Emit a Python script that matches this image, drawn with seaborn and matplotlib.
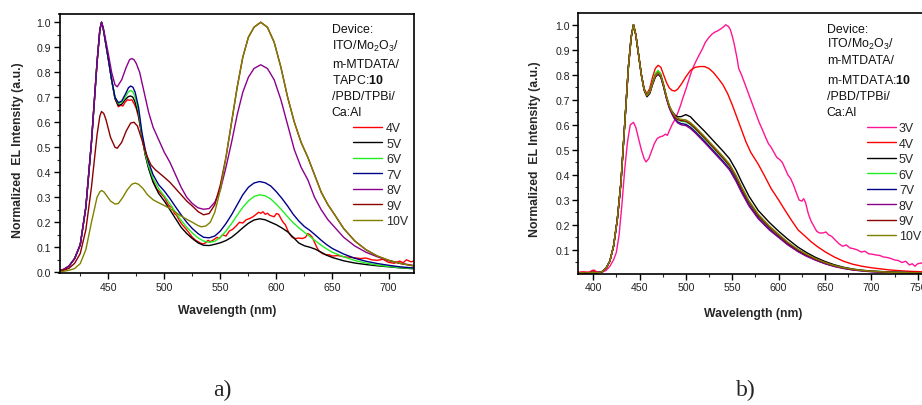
import numpy as np
import pandas as pd
import matplotlib
matplotlib.use("Agg")
import matplotlib.pyplot as plt
from matplotlib.ticker import MultipleLocator
import seaborn as sns

# ---------------- panel a: TAPC:10 device ----------------
wl_a = [406, 410, 415, 420, 425, 430, 435, 440, 442.5, 444, 445.5, 447, 450, 453, 456, 459, 462,
        465, 468, 470, 472, 474, 477, 480, 483, 486, 490, 495, 500, 505, 510, 515, 520, 525, 530,
        535, 540, 545, 550, 555, 560, 565, 570, 575, 580, 585, 590, 595, 600, 605, 610, 615, 620,
        625, 630, 635, 640, 645, 650, 660, 670, 680, 690, 700, 710, 723]

a_5V = [0.005, 0.01, 0.025, 0.055, 0.11, 0.26, 0.52, 0.84, 0.97, 1.0, 0.975, 0.935, 0.855, 0.77,
        0.695, 0.667, 0.672, 0.69, 0.703, 0.705, 0.70, 0.68, 0.63, 0.545, 0.47, 0.415, 0.36, 0.315,
        0.285, 0.25, 0.215, 0.18, 0.155, 0.135, 0.118, 0.108, 0.107, 0.112, 0.118, 0.127, 0.14,
        0.158, 0.178, 0.196, 0.209, 0.214, 0.21, 0.2, 0.19, 0.177, 0.162, 0.14, 0.117, 0.106, 0.1,
        0.092, 0.08, 0.068, 0.059, 0.046, 0.037, 0.031, 0.026, 0.022, 0.018, 0.014]
a_6V = [0.005, 0.01, 0.025, 0.055, 0.11, 0.26, 0.52, 0.84, 0.97, 1.0, 0.975, 0.935, 0.855, 0.77,
        0.70, 0.675, 0.68, 0.70, 0.722, 0.727, 0.722, 0.70, 0.645, 0.55, 0.475, 0.425, 0.375, 0.335,
        0.305, 0.275, 0.24, 0.208, 0.18, 0.157, 0.138, 0.125, 0.12, 0.124, 0.14, 0.165, 0.195,
        0.228, 0.26, 0.285, 0.303, 0.31, 0.306, 0.293, 0.272, 0.248, 0.222, 0.198, 0.178, 0.16,
        0.143, 0.125, 0.108, 0.093, 0.08, 0.062, 0.047, 0.037, 0.029, 0.023, 0.019, 0.015]
a_7V = [0.005, 0.01, 0.025, 0.055, 0.11, 0.26, 0.52, 0.84, 0.97, 1.0, 0.975, 0.935, 0.855, 0.77,
        0.70, 0.678, 0.685, 0.71, 0.738, 0.745, 0.74, 0.72, 0.66, 0.56, 0.49, 0.44, 0.39, 0.35,
        0.325, 0.295, 0.262, 0.23, 0.2, 0.175, 0.155, 0.14, 0.138, 0.145, 0.165, 0.195, 0.23, 0.27,
        0.31, 0.34, 0.357, 0.363, 0.358, 0.345, 0.322, 0.295, 0.265, 0.232, 0.205, 0.183, 0.167,
        0.148, 0.128, 0.11, 0.095, 0.073, 0.056, 0.044, 0.035, 0.028, 0.022, 0.017]

wl_a8 = [406, 410, 415, 420, 425, 430, 435, 440, 442.5, 444, 445.5, 447, 450, 453, 456, 458, 462,
         466, 469, 471, 473, 475, 478, 482, 486, 490, 495, 500, 505, 510, 515, 520, 525, 530, 535,
         540, 545, 550, 555, 560, 565, 570, 575, 580, 586, 592, 598, 604, 610, 616, 622, 628, 634,
         640, 646, 652, 660, 670, 680, 690, 700, 710, 723]
a_8V = [0.005, 0.01, 0.025, 0.055, 0.11, 0.26, 0.52, 0.84, 0.97, 1.0, 0.978, 0.945, 0.875, 0.8,
        0.75, 0.742, 0.77, 0.82, 0.85, 0.855, 0.85, 0.835, 0.8, 0.72, 0.64, 0.58, 0.53, 0.48, 0.44,
        0.39, 0.34, 0.3, 0.275, 0.258, 0.252, 0.255, 0.28, 0.33, 0.42, 0.52, 0.63, 0.72, 0.78,
        0.815, 0.83, 0.815, 0.77, 0.69, 0.59, 0.49, 0.42, 0.37, 0.3, 0.25, 0.21, 0.18, 0.14, 0.105,
        0.08, 0.062, 0.047, 0.036, 0.027]

wl_a9 = [406, 410, 415, 420, 425, 430, 435, 440, 442.5, 444, 446, 448, 452, 456, 458, 462, 466, 470,
         473, 476, 480, 484, 488, 492, 496, 500, 505, 510, 515, 520, 525, 530, 535, 540, 545, 550,
         555, 560, 565, 570, 575, 580, 586, 592, 598, 604, 610, 616, 622, 628, 634, 640, 646, 652,
         660, 670, 680, 690, 700, 710, 723]
a_9V = [0.004, 0.008, 0.016, 0.036, 0.075, 0.17, 0.34, 0.55, 0.625, 0.643, 0.635, 0.61, 0.54, 0.5,
        0.496, 0.52, 0.565, 0.597, 0.6, 0.585, 0.53, 0.47, 0.43, 0.41, 0.395, 0.38, 0.36, 0.335,
        0.31, 0.285, 0.265, 0.243, 0.23, 0.235, 0.27, 0.35, 0.46, 0.6, 0.74, 0.86, 0.94, 0.98, 1.0,
        0.98, 0.92, 0.82, 0.7, 0.6, 0.52, 0.46, 0.39, 0.32, 0.27, 0.23, 0.175, 0.125, 0.09, 0.065,
        0.048, 0.036, 0.025]

wl_a10 = [406, 410, 415, 420, 425, 430, 435, 440, 442.5, 444, 446, 448, 452, 456, 459, 463, 467, 471,
          474, 477, 481, 485, 490, 495, 500, 505, 510, 515, 520, 525, 530, 533, 537, 541, 545, 550,
          555, 560, 565, 570, 575, 580, 586, 592, 598, 604, 610, 616, 622, 628, 634, 640, 646, 652,
          660, 670, 680, 690, 700, 710, 723]
a_10V = [0.002, 0.004, 0.008, 0.015, 0.035, 0.09, 0.2, 0.3, 0.322, 0.327, 0.322, 0.31, 0.285, 0.273,
         0.275, 0.3, 0.33, 0.352, 0.357, 0.352, 0.335, 0.31, 0.29, 0.278, 0.267, 0.255, 0.24, 0.225,
         0.212, 0.2, 0.187, 0.182, 0.185, 0.2, 0.24, 0.33, 0.46, 0.6, 0.74, 0.86, 0.94, 0.98, 1.0,
         0.98, 0.92, 0.82, 0.7, 0.6, 0.52, 0.46, 0.39, 0.32, 0.27, 0.23, 0.175, 0.125, 0.09, 0.065,
         0.048, 0.036, 0.025]

wl_a4 = [406, 410, 413, 415, 420, 425, 430, 435, 440, 442.5, 444, 445.5, 447, 450, 453, 456, 459,
         461, 463, 465, 467, 469, 471, 473, 475, 477, 480, 483, 486, 490, 493, 496, 500, 503, 505,
         507, 509, 511, 513, 516, 519, 522, 525, 528, 531, 534, 537, 539, 541, 544, 547, 549, 552,
         555, 558, 561, 564, 567, 570, 573, 576, 579, 582, 584, 586, 588, 590, 592, 594, 596, 598,
         600, 602, 604, 606, 608, 610, 612, 614, 617, 620, 623, 626, 628, 630, 632, 634, 636, 638,
         641, 644, 647, 650, 655, 660, 665, 670, 675, 680, 685, 690, 695, 700, 705, 710, 713, 716,
         720, 723]
a_4V = [0.008, 0.012, 0.02, 0.025, 0.055, 0.11, 0.26, 0.52, 0.84, 0.97, 1.0, 0.975, 0.935, 0.855,
        0.77, 0.695, 0.662, 0.668, 0.665, 0.68, 0.69, 0.688, 0.69, 0.675, 0.655, 0.62, 0.545, 0.47,
        0.418, 0.365, 0.335, 0.32, 0.3, 0.275, 0.262, 0.26, 0.235, 0.228, 0.21, 0.19, 0.175, 0.158,
        0.14, 0.128, 0.12, 0.113, 0.118, 0.128, 0.122, 0.13, 0.14, 0.135, 0.15, 0.145, 0.165, 0.172,
        0.185, 0.2, 0.197, 0.21, 0.215, 0.222, 0.232, 0.24, 0.236, 0.242, 0.232, 0.236, 0.228,
        0.225, 0.222, 0.235, 0.232, 0.215, 0.2, 0.19, 0.168, 0.152, 0.14, 0.135, 0.137, 0.135,
        0.14, 0.155, 0.15, 0.14, 0.12, 0.1, 0.085, 0.075, 0.07, 0.07, 0.065, 0.067, 0.062, 0.06,
        0.058, 0.055, 0.057, 0.05, 0.048, 0.052, 0.04, 0.036, 0.045, 0.038, 0.05, 0.042, 0.045]

# ---------------- panel b: m-MTDATA:10 device ----------------
wl_b = [384, 388, 392, 396, 400, 403, 406, 410, 414, 418, 422, 426, 430, 434, 438, 441, 443.5, 446,
        449, 452, 455, 458, 461, 464, 467, 470, 473, 476, 479, 482, 485, 488, 491, 495, 500, 505,
        510, 520, 530, 540, 547, 554, 560, 568, 578, 590, 600, 610, 621, 630, 640, 650, 660, 670,
        680, 690, 700, 720, 740, 760]

b_5V = [0.008, 0.009, 0.008, 0.009, 0.01, 0.009, 0.01, 0.014, 0.028, 0.055, 0.115, 0.22, 0.37, 0.6,
        0.83, 0.95, 1.0, 0.96, 0.88, 0.8, 0.738, 0.712, 0.725, 0.76, 0.79, 0.803, 0.79, 0.752,
        0.708, 0.672, 0.655, 0.64, 0.632, 0.633, 0.641, 0.632, 0.612, 0.575, 0.535, 0.495, 0.465,
        0.42, 0.373, 0.315, 0.258, 0.21, 0.175, 0.143, 0.111, 0.09, 0.07, 0.054, 0.041, 0.031,
        0.024, 0.019, 0.016, 0.012, 0.01, 0.009]
b_6V = [0.008, 0.009, 0.008, 0.009, 0.01, 0.009, 0.01, 0.014, 0.028, 0.055, 0.115, 0.22, 0.37, 0.6,
        0.83, 0.95, 1.0, 0.96, 0.88, 0.8, 0.742, 0.722, 0.735, 0.772, 0.805, 0.818, 0.805, 0.763,
        0.716, 0.678, 0.652, 0.632, 0.62, 0.614, 0.612, 0.6, 0.583, 0.545, 0.505, 0.465, 0.435,
        0.39, 0.345, 0.29, 0.236, 0.19, 0.158, 0.127, 0.099, 0.08, 0.063, 0.048, 0.037, 0.028,
        0.022, 0.018, 0.015, 0.011, 0.009, 0.008]
b_7V = [0.008, 0.009, 0.008, 0.009, 0.01, 0.009, 0.01, 0.014, 0.028, 0.055, 0.115, 0.22, 0.37, 0.6,
        0.83, 0.95, 1.0, 0.96, 0.88, 0.8, 0.74, 0.717, 0.73, 0.765, 0.795, 0.808, 0.795, 0.755,
        0.71, 0.672, 0.645, 0.625, 0.612, 0.605, 0.602, 0.59, 0.573, 0.535, 0.495, 0.455, 0.425,
        0.38, 0.335, 0.28, 0.228, 0.183, 0.152, 0.122, 0.095, 0.077, 0.06, 0.046, 0.035, 0.027,
        0.021, 0.017, 0.014, 0.011, 0.009, 0.008]
b_8V = [0.008, 0.009, 0.008, 0.009, 0.01, 0.009, 0.01, 0.014, 0.028, 0.055, 0.115, 0.22, 0.37, 0.6,
        0.83, 0.95, 1.0, 0.96, 0.88, 0.8, 0.74, 0.716, 0.728, 0.763, 0.793, 0.805, 0.792, 0.752,
        0.706, 0.668, 0.643, 0.622, 0.608, 0.6, 0.597, 0.585, 0.568, 0.53, 0.49, 0.45, 0.42, 0.375,
        0.33, 0.276, 0.225, 0.18, 0.15, 0.12, 0.093, 0.075, 0.059, 0.045, 0.034, 0.026, 0.02,
        0.016, 0.013, 0.01, 0.009, 0.008]
b_9V = [0.008, 0.009, 0.008, 0.009, 0.01, 0.009, 0.01, 0.014, 0.028, 0.055, 0.115, 0.22, 0.37, 0.6,
        0.83, 0.95, 1.0, 0.96, 0.88, 0.8, 0.74, 0.717, 0.73, 0.765, 0.797, 0.81, 0.797, 0.758,
        0.713, 0.676, 0.65, 0.632, 0.622, 0.617, 0.615, 0.603, 0.586, 0.548, 0.508, 0.468, 0.438,
        0.393, 0.347, 0.292, 0.238, 0.192, 0.16, 0.128, 0.1, 0.081, 0.064, 0.049, 0.037, 0.029,
        0.022, 0.018, 0.015, 0.011, 0.009, 0.008]
b_10V = [0.008, 0.009, 0.008, 0.009, 0.01, 0.009, 0.01, 0.014, 0.028, 0.055, 0.115, 0.22, 0.37, 0.6,
         0.83, 0.95, 1.0, 0.96, 0.88, 0.8, 0.74, 0.717, 0.73, 0.765, 0.797, 0.81, 0.797, 0.758,
         0.714, 0.678, 0.653, 0.636, 0.626, 0.622, 0.62, 0.609, 0.592, 0.554, 0.514, 0.474, 0.444,
         0.399, 0.353, 0.297, 0.243, 0.196, 0.163, 0.131, 0.102, 0.083, 0.065, 0.05, 0.038, 0.029,
         0.023, 0.018, 0.015, 0.011, 0.009, 0.008]

wl_b4 = [384, 390, 396, 400, 402, 406, 410, 414, 418, 422, 426, 430, 434, 438, 441, 443.5, 446, 449,
         452, 455, 458, 461, 464, 467, 470, 473, 476, 479, 482, 485, 488, 491, 495, 500, 505, 510,
         515, 520, 525, 530, 535, 540, 545, 550, 555, 560, 565, 570, 578, 585, 592, 600, 607, 614,
         621, 628, 635, 642, 650, 660, 670, 680, 690, 700, 720, 740, 760]
b_4V = [0.01, 0.012, 0.01, 0.018, 0.012, 0.01, 0.014, 0.028, 0.055, 0.115, 0.22, 0.37, 0.6, 0.83,
        0.95, 1.0, 0.96, 0.88, 0.8, 0.745, 0.725, 0.745, 0.79, 0.825, 0.838, 0.83, 0.8, 0.77, 0.748,
        0.738, 0.735, 0.742, 0.762, 0.792, 0.818, 0.83, 0.833, 0.833, 0.825, 0.808, 0.785, 0.76,
        0.725, 0.68, 0.63, 0.58, 0.53, 0.49, 0.443, 0.395, 0.345, 0.3, 0.258, 0.218, 0.18, 0.157,
        0.133, 0.113, 0.093, 0.072, 0.055, 0.043, 0.035, 0.029, 0.02, 0.015, 0.012]

wl_b3 = [384, 388, 392, 396, 399, 401, 403, 406, 410, 414, 418, 422, 425, 428, 431, 434, 437, 440,
         443.5, 446, 449, 452, 455, 457, 460, 463, 466, 469, 472, 475, 478, 480, 482, 485, 488, 491,
         494, 497, 500, 504, 507, 511, 514, 518, 521, 525, 528, 531, 534, 537, 540, 543, 546, 548,
         550, 552, 555, 557, 560, 564, 568, 572, 576, 579, 582, 586, 589, 592, 595, 598, 601, 604,
         607, 610, 613, 616, 619, 622, 625, 627, 629, 632, 635, 638, 641, 644, 648, 651, 654, 657,
         661, 665, 669, 673, 677, 681, 685, 689, 693, 697, 701, 705, 709, 713, 717, 721, 725, 729,
         733, 737, 741, 744, 747, 750, 754, 758, 760]
b_3V = [0.01, 0.012, 0.01, 0.012, 0.018, 0.02, 0.015, 0.01, 0.012, 0.018, 0.035, 0.06, 0.09, 0.16,
        0.28, 0.42, 0.53, 0.6, 0.61, 0.59, 0.545, 0.5, 0.465, 0.452, 0.465, 0.495, 0.525, 0.545,
        0.552, 0.555, 0.563, 0.558, 0.575, 0.6, 0.62, 0.645, 0.675, 0.71, 0.742, 0.79, 0.823, 0.855,
        0.877, 0.905, 0.93, 0.95, 0.962, 0.97, 0.975, 0.982, 0.99, 1.0, 0.993, 0.98, 0.955, 0.925,
        0.87, 0.825, 0.8, 0.76, 0.72, 0.68, 0.64, 0.61, 0.585, 0.55, 0.525, 0.51, 0.49, 0.47, 0.462,
        0.45, 0.425, 0.4, 0.385, 0.36, 0.33, 0.3, 0.295, 0.305, 0.29, 0.245, 0.215, 0.195, 0.175,
        0.168, 0.168, 0.172, 0.16, 0.155, 0.14, 0.125, 0.115, 0.12, 0.108, 0.105, 0.1, 0.092, 0.095,
        0.085, 0.083, 0.08, 0.078, 0.072, 0.07, 0.066, 0.06, 0.058, 0.05, 0.055, 0.04, 0.045, 0.035,
        0.045, 0.048, 0.045, 0.05]

labels_a = ["4V", "5V", "6V", "7V", "8V", "9V", "10V"]
labels_b = ["3V", "4V", "5V", "6V", "7V", "8V", "9V", "10V"]
ticks_x_a = [450, 500, 550, 600, 650, 700]
ticks_x_b = [400, 450, 500, 550, 600, 650, 700, 750]
ticks_y_a = [0.0, 0.1, 0.2, 0.3, 0.4, 0.5, 0.6, 0.7, 0.8, 0.9, 1.0]
ticks_y_b = [0.1, 0.2, 0.3, 0.4, 0.5, 0.6, 0.7, 0.8, 0.9, 1.0]

colors = {"3V": "#FF1493", "4V": "#FF0000", "5V": "#000000", "6V": "#22EE22", "7V": "#00008B",
          "8V": "#8B008B", "9V": "#8B0000", "10V": "#808000"}


def long_frame(pairs):
    rows = []
    for lab, (x, y) in pairs.items():
        rows.append(pd.DataFrame({"wl": x, "I": y, "V": lab}))
    return pd.concat(rows, ignore_index=True)


df_a = long_frame({"4V": (wl_a4, a_4V), "5V": (wl_a, a_5V), "6V": (wl_a, a_6V),
                   "7V": (wl_a, a_7V), "8V": (wl_a8, a_8V), "9V": (wl_a9, a_9V),
                   "10V": (wl_a10, a_10V)})
df_b = long_frame({"3V": (wl_b3, b_3V), "4V": (wl_b4, b_4V), "5V": (wl_b, b_5V),
                   "6V": (wl_b, b_6V), "7V": (wl_b, b_7V), "8V": (wl_b, b_8V),
                   "9V": (wl_b, b_9V), "10V": (wl_b, b_10V)})

sns.set_theme(style="ticks")
plt.rcParams["font.family"] = ["Liberation Sans", "DejaVu Sans"]
plt.rcParams["mathtext.fontset"] = "custom"
plt.rcParams["mathtext.rm"] = "Liberation Sans"
plt.rcParams["mathtext.bf"] = "Liberation Sans:bold"
plt.rcParams["mathtext.it"] = "Liberation Sans:italic"

W, H = 922, 406
fig = plt.figure(figsize=(W / 100, H / 100), dpi=100)


def fx(px):
    return px / W


def fy(py):
    return 1 - py / H


def make_axes(left, top, right, bottom):
    return fig.add_axes([fx(left), fy(bottom), fx(right) - fx(left), (bottom - top) / H])


ax_a = make_axes(59.5, 15, 414.3, 274.3)
ax_b = make_axes(578.3, 14, 927, 274.5)

TICK_FS = 7.6
LAB_FS = 8.8
LEG_FS = 8.9

for ax, df, order in ((ax_a, df_a, labels_a), (ax_b, df_b, labels_b)):
    sns.lineplot(data=df, x="wl", y="I", hue="V", hue_order=order, palette=colors,
                 estimator=None, sort=False, lw=1.0, ax=ax)
    for s in ax.spines.values():
        s.set_linewidth(1.2)
        s.set_color("black")
    ax.tick_params(axis="both", which="major", direction="out", length=4, width=1.0,
                   labelsize=TICK_FS, pad=2, color="black", labelcolor="#222222")
    ax.tick_params(axis="both", which="minor", direction="out", length=2.5, width=0.8)
    ax.xaxis.set_minor_locator(MultipleLocator(25))
    ax.yaxis.set_minor_locator(MultipleLocator(0.05))
    ax.set_xlabel("Wavelength (nm)", fontsize=LAB_FS, fontweight="bold")
    ax.set_ylabel("Normalized  EL Intensity (a.u.)", fontsize=LAB_FS, fontweight="bold")
    ax.get_legend().remove()

ax_a.set_xlim(406.5, 723)
ax_a.set_ylim(-0.004, 1.033)
ax_a.set_xticks(ticks_x_a)
ax_a.set_yticks(ticks_y_a)
ax_a.set_xticklabels([str(t) for t in ticks_x_a])
ax_a.set_yticklabels([f"{t:.1f}" for t in ticks_y_a])

ax_b.set_xlim(384, 760)
ax_b.set_ylim(0.006, 1.047)
ax_b.set_xticks(ticks_x_b)
ax_b.set_yticks(ticks_y_b)
ax_b.set_xticklabels([str(t) for t in ticks_x_b])
ax_b.set_yticklabels([f"{t:.1f}" for t in ticks_y_b])

# axis label placement
ax_a.yaxis.set_label_coords((18 - 59.5) / (414.3 - 59.5), (274.3 - 150) / (274.3 - 15))
ax_b.yaxis.set_label_coords((535 - 578.3) / (927 - 578.3), (274.5 - 149) / (274.5 - 14))
ax_a.xaxis.set_label_coords((227 - 59.5) / (414.3 - 59.5), -(311 - 274.3) / (274.3 - 15))
ax_b.xaxis.set_label_coords((753 - 578.3) / (927 - 578.3), -(314 - 274.5) / (274.5 - 14))
for ax in (ax_a, ax_b):
    ax.xaxis.label.set_va("center")
    ax.yaxis.label.set_va("center")

# device descriptions
dev_a = ["Device:", "ITO/Mo$_2$O$_3$/", "m-MTDATA/", r"TAPC:$\mathbf{10}$", "/PBD/TPBi/", "Ca:Al"]
dev_b = ["Device:", "ITO/Mo$_2$O$_3$/", "m-MTDATA/", r"m-MTDATA:$\mathbf{10}$", "/PBD/TPBi/",
         "Ca:Al"]
base_a = [33.4, 50.1, 68.4, 84.4, 100.1, 116.1]
base_b = [33.4, 48.3, 64.4, 84.4, 100.4, 116.1]
for txt, yb in zip(dev_a, base_a):
    fig.text(fx(331.7), fy(yb), txt, fontsize=LEG_FS, va="baseline", ha="left", color="#111111")
for txt, yb in zip(dev_b, base_b):
    fig.text(fx(826.7), fy(yb), txt, fontsize=LEG_FS, va="baseline", ha="left", color="#111111")

# voltage legends
h, l = ax_a.get_legend_handles_labels()
ax_a.legend(h, l, loc="upper left", bbox_to_anchor=(fx(353.3), fy(123.2)),
            bbox_transform=fig.transFigure, frameon=False, borderpad=0, borderaxespad=0,
            handlelength=2.3, handletextpad=0.35, labelspacing=0.28, fontsize=LEG_FS)
h, l = ax_b.get_legend_handles_labels()
ax_b.legend(h, l, loc="upper left", bbox_to_anchor=(fx(866.7), fy(123.2)),
            bbox_transform=fig.transFigure, frameon=False, borderpad=0, borderaxespad=0,
            handlelength=2.4, handletextpad=0.2, labelspacing=0.28, fontsize=LEG_FS)

# panel captions
fig.text(fx(222), fy(390), "a)", fontsize=17, family=["Liberation Serif"], ha="center", va="center")
fig.text(fx(746), fy(390), "b)", fontsize=17, family=["Liberation Serif"], ha="center", va="center")

fig.savefig("out.png", dpi=100)
